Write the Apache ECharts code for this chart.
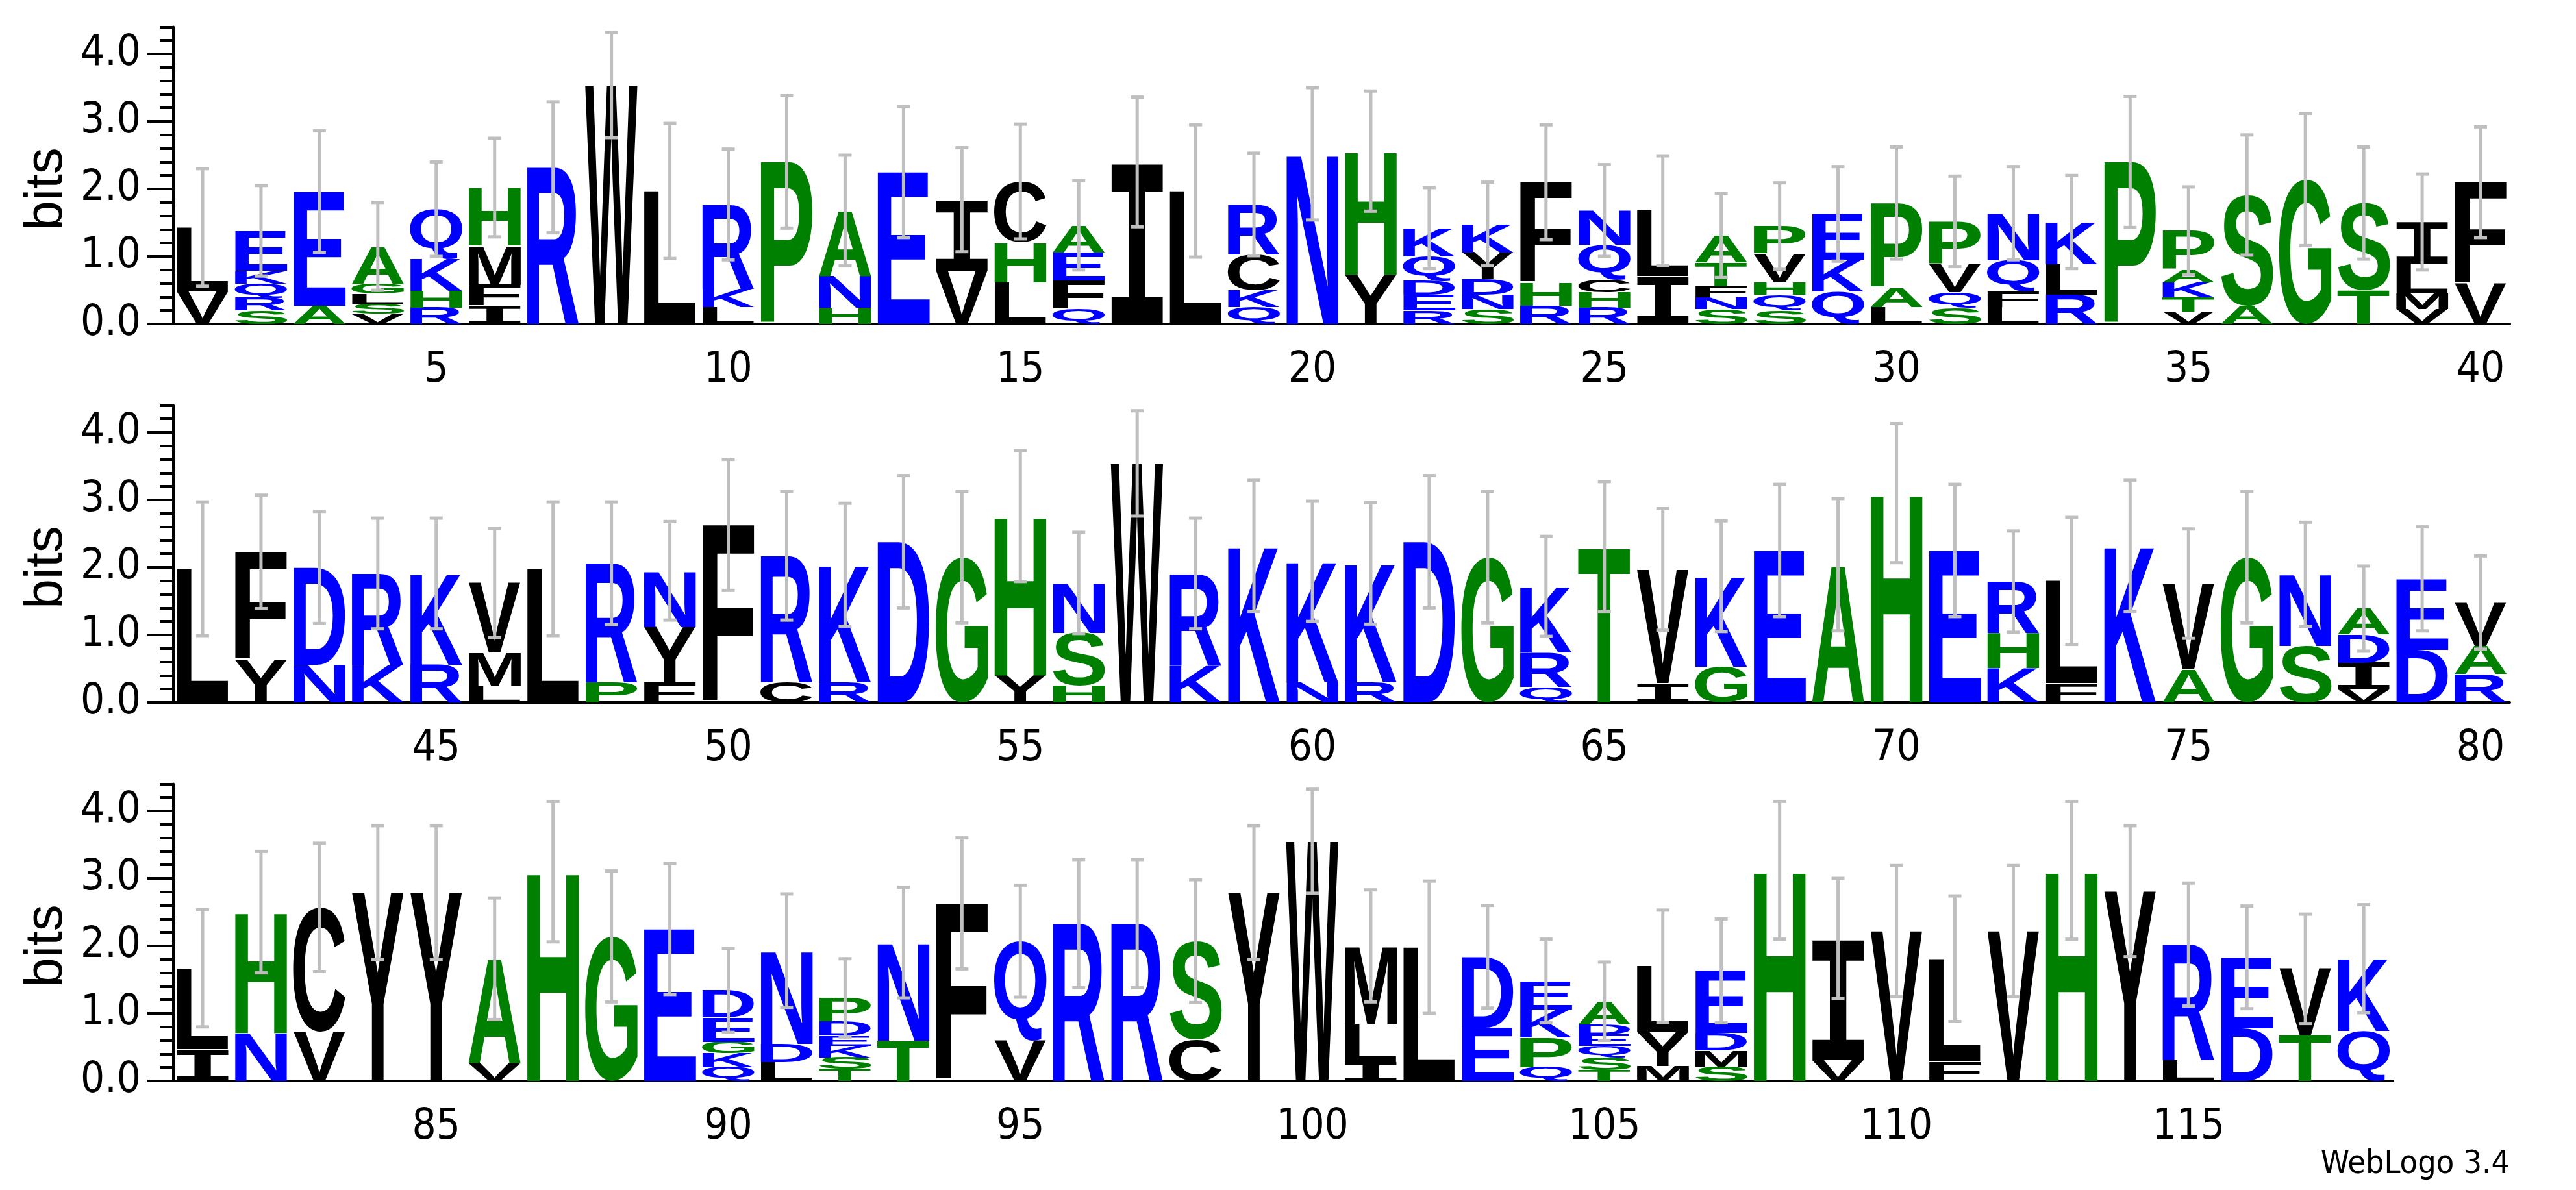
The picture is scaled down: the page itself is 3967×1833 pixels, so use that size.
<!DOCTYPE html>
<html>
<head>
<meta charset="utf-8">
<script src="https://cdn.jsdelivr.net/npm/echarts@6/dist/echarts.min.js"></script>
<style>
  html, body { margin: 0; padding: 0; background: #fff; }
  #main { width: 3967px; height: 1833px; }
</style>
</head>
<body>
<div id="main"></div>
<script>
// stacks, bottom to top
var letters = ['VL','SRQKE','AE','VSLGA','RHKQ','IFMH','R','W','L','LKR',
  'P','HNA','E','VI','LHC','QFEA','I','L','QKCR','N',
  'YH','REDQK','SNDYK','RHF','RHCQN','IL','SNFTA','SQHVP','QKE','LAP',
  'SQVP','LFQN','RLK','P','VTKAP','AS','G','TS','VMLI','VF',
  'L','YF','ND','KR','RK','LMV','L','PR','FYN','F',
  'CR','RK','D','G','YH','HSN','W','KR','K','NK',
  'RK','D','G','QRK','T','IV','GK','E','A','H',
  'E','KHR','FL','K','AV','G','SN','VIDA','DE','RAV',
  'IL','NH','VC','Y','Y','VA','H','G','E','QKGED',
  'LDN','TSKEDP','TN','F','VQ','R','R','CS','Y','W',
  'ILM','L','ED','QPKE','TSQEDA','MYL','SMDE','H','VI','V',
  'FL','V','H','Y','LR','DE','TV','QK'];
var heights = [[.48,.95],[.2,.19,.21,.19,.59],[.27,1.69],[.15,.15,.15,.15,.55],[.24,.25,.47,.74],[.27,.31,.58,.86],[2.32],[3.54],[1.97],[.25,.27,1.25],
  [2.4],[.24,.47,.97],[2.25],[.79,1.05],[.62,.59,.9],[.22,.42,.42,.4],[2.4],[1.97],[.25,.25,.53,.74],[2.52],
  [.73,1.83],[.2,.23,.21,.36,.42],[.22,.21,.23,.4,.42],[.27,.34,1.49],[.24,.23,.19,.51,.51],[.71,.97],[.22,.17,.17,.35,.4],[.2,.23,.19,.42,.41],[.48,.47,.68],[.25,.29,1.25],
  [.24,.23,.42,.63],[.25,.23,.46,.7],[.43,.45,.63],[2.4],[.18,.21,.23,.19,.57],[.27,1.64],[2.14],[.5,1.29],[.22,.23,.44,.62],[.6,1.5],
  [1.98],[.63,1.6],[.56,1.44],[.56,1.35],[.56,1.35],[.25,.49,1.03],[1.98],[.3,1.76],[.3,.82,.83],[2.63],
  [.3,1.87],[.3,1.74],[2.38],[2.15],[.4,2.36],[.25,.78,.74],[3.54],[.55,1.36],[2.32],[.3,1.79],
  [.3,1.76],[2.38],[2.15],[.23,.51,.98],[2.31],[.29,1.68],[.53,1.34],[2.25],[2.04],[3.1],
  [2.25],[.51,.52,.76],[.29,1.51],[2.32],[.49,1.27],[2.15],[.84,1.06],[.19,.4,.42,.38],[.78,1.05],[.42,.42,.64],
  [.47,1.2],[.71,1.79],[.73,1.84],[2.79],[2.79],[.26,1.55],[3.1],[2.14],[2.25],[.2,.21,.17,.36,.4],
  [.28,.27,1.38],[.18,.17,.17,.15,.21,.35],[.6,1.45],[2.63],[.6,1.47],[2.33],[2.33],[.61,1.46],[2.79],[3.55],
  [.28,.57,1.15],[1.98],[.79,1.05],[.2,.44,.42,.42],[.16,.19,.17,.17,.15,.34],[.22,.51,.97],[.21,.24,.26,.92],[3.12],[.31,1.8],[2.22],
  [.29,1.52],[2.22],[3.12],[2.81],[.31,1.71],[.78,1.05],[.68,.98],[.74,1.07]];
var errors = [.87,.67,.9,.65,.7,.73,.97,.78,1.0,.82,
  .98,.82,.97,.77,.85,.66,.96,.98,.76,.98,
  .89,.6,.62,.85,.68,.81,.62,.64,.7,.83,
  .67,.69,.69,.97,.65,.89,.98,.83,.71,.82,
  .99,.84,.83,.82,.82,.81,.99,.91,.73,.97,
  .95,.91,.98,.97,.97,.75,.78,.82,.97,.89,
  .9,.98,.97,.74,.96,.9,.82,.98,.98,1.03,
  .98,.75,.94,.97,.81,.97,.77,.63,.77,.69,
  .87,.9,.95,.99,.99,.9,1.04,.97,.97,.62,
  .84,.58,.82,.97,.83,.95,.95,.91,.99,.77,
  .83,.98,.76,.62,.58,.83,.77,1.02,.89,.97,
  .93,.97,1.02,.97,.91,.76,.81,.8];
var rowRanges = [[1,40],[41,80],[81,118]];
var baselines = [499, 1082, 1665];

var colorOf = {};
'RKDENQ'.split('').forEach(function (c) { colorOf[c] = '#0000ff'; });
'SGHTAP'.split('').forEach(function (c) { colorOf[c] = '#008000'; });
'YVMCLFIW'.split('').forEach(function (c) { colorOf[c] = '#000000'; });

var FONT = 'bold 100px "Liberation Sans"';
var FONT_I = 'bold 100px "Liberation Mono"';   // serif'd I like the WebLogo glyph
var NARROW = '"Liberation Sans Narrow", "DejaVu Sans Condensed", sans-serif';
var ctx = document.createElement('canvas').getContext('2d');
var boxes = {};
function fontOf(ch) { return ch === 'I' ? FONT_I : FONT; }
function glyph(ch) {
    if (!boxes[ch]) {
        ctx.font = fontOf(ch);
        ctx.textBaseline = 'middle';
        ctx.textAlign = 'left';
        var m = ctx.measureText(ch);
        boxes[ch] = {l: m.actualBoundingBoxLeft, r: m.actualBoundingBoxRight,
                     a: m.actualBoundingBoxAscent, d: m.actualBoundingBoxDescent};
    }
    return boxes[ch];
}

var PX_BIT = 104, LEFT = 267, BAND = 89.95;
var grid = [], xAxis = [], yAxis = [], series = [];

rowRanges.forEach(function (rg, r) {
    var cats = [];
    for (var p = rg[0]; p <= rg[1]; p++) cats.push(String(p));
    var w = cats.length * BAND;
    var base = baselines[r];
    grid.push({left: LEFT, width: w, top: base - 4.4 * PX_BIT, height: 4.4 * PX_BIT});
    grid.push({left: LEFT, width: w, top: base - 4 * PX_BIT, height: 4 * PX_BIT});

    xAxis.push({type: 'category', gridIndex: 2 * r, data: cats,
        axisLine: {lineStyle: {color: '#000', width: 4}},
        axisTick: {alignWithLabel: true, length: 11, lineStyle: {width: 4, color: '#000'}},
        axisLabel: {show: false}});
    xAxis.push({type: 'category', gridIndex: 2 * r, data: cats, position: 'bottom',
        axisLine: {show: false},
        axisTick: {alignWithLabel: true, length: 22, lineStyle: {width: 4, color: '#000'},
            interval: function (i, v) { return Number(v) % 5 === 0; }},
        axisLabel: {interval: function (i, v) { return Number(v) % 5 === 0; },
            margin: 40, fontFamily: NARROW, fontSize: 65, color: '#000'}});
    xAxis.push({type: 'value', gridIndex: 2 * r + 1, show: false});

    yAxis.push({type: 'value', gridIndex: 2 * r, min: 0, max: 4.4, interval: 0.2,
        axisLine: {show: true, lineStyle: {color: '#000', width: 4}},
        axisTick: {show: true, length: 21, lineStyle: {width: 4, color: '#000'}},
        axisLabel: {show: false}, splitLine: {show: false}});
    yAxis.push({type: 'value', gridIndex: 2 * r + 1, min: 0, max: 4, interval: 1,
        axisLine: {show: false},
        axisTick: {show: true, length: 40, lineStyle: {width: 4, color: '#000'}},
        axisLabel: {margin: 50, fontFamily: NARROW, fontSize: 65, color: '#000',
            formatter: function (v) { return v.toFixed(1); }},
        splitLine: {show: false},
        name: 'bits', nameLocation: 'middle', nameRotate: 90, nameGap: 150,
        nameTextStyle: {fontFamily: '"Liberation Sans"', fontSize: 82, color: '#000'}});

    var stackItems = [], errItems = [];
    for (var p = rg[0]; p <= rg[1]; p++) {
        var ls = letters[p - 1], hs = heights[p - 1], y = 0;
        for (var k = 0; k < ls.length; k++) {
            stackItems.push([p - rg[0], y, y + hs[k], ls[k]]);
            y += hs[k];
        }
        errItems.push([p - rg[0], y, errors[p - 1]]);
    }

    series.push({type: 'custom', xAxisIndex: 3 * r, yAxisIndex: 2 * r, clip: false,
        data: stackItems.map(function (d) { return [d[0], d[1], d[2]]; }),
        renderItem: function (params, api) {
            var ch = stackItems[params.dataIndex][3];
            var lo = api.coord([api.value(0), api.value(1)]);
            var hi = api.coord([api.value(0), api.value(2)]);
            var bw = api.size([1, 0])[0] * 0.9;
            var h = lo[1] - hi[1];
            var g = glyph(ch);
            var sx = bw / (g.l + g.r), sy = h / (g.a + g.d);
            return {type: 'text', x: lo[0] - bw / 2 + g.l * sx, y: hi[1] + g.a * sy,
                scaleX: sx, scaleY: sy,
                style: {text: ch, font: fontOf(ch), fill: colorOf[ch], align: 'left', verticalAlign: 'middle'}};
        }});

    series.push({type: 'custom', xAxisIndex: 3 * r, yAxisIndex: 2 * r, clip: false, z: 5,
        data: errItems,
        renderItem: function (params, api) {
            var x = api.value(0), t = api.value(1), e = api.value(2);
            var top = api.coord([x, t + e]), bot = api.coord([x, t - e]);
            var cw = 10, st = {stroke: '#bfbfbf', lineWidth: 5};
            return {type: 'group', children: [
                {type: 'line', shape: {x1: top[0], y1: top[1], x2: bot[0], y2: bot[1]}, style: st},
                {type: 'line', shape: {x1: top[0] - cw, y1: top[1], x2: top[0] + cw, y2: top[1]}, style: st},
                {type: 'line', shape: {x1: bot[0] - cw, y1: bot[1], x2: bot[0] + cw, y2: bot[1]}, style: st}
            ]};
        }});
});

var chart = echarts.init(document.getElementById('main'));
chart.setOption({
    animation: false,
    grid: grid, xAxis: xAxis, yAxis: yAxis, series: series,
    graphic: [{type: 'text', right: 102, bottom: 14,
        style: {text: 'WebLogo 3.4', font: '50px ' + NARROW, fill: '#000'}}]
});
</script>
</body>
</html>
